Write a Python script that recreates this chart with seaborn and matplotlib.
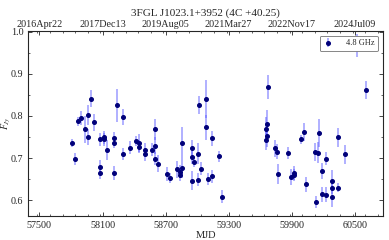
import numpy as np
import matplotlib
matplotlib.use('Agg')
import matplotlib.pyplot as plt
import seaborn as sns
from matplotlib.ticker import MultipleLocator

# Light curve values (MJD, flux density in Jy, error)
mjd = [57812, 57840, 57869, 57897, 57929, 57963, 57963, 57989, 58020,
       58080, 58080, 58080, 58114, 58118, 58146, 58206, 58206, 58206,
       58234, 58297, 58297, 58357, 58417, 58445, 58445, 58508, 58508,
       58568, 58596, 58596, 58596, 58625,
       58710, 58745, 58808, 58836, 58839, 58858, 58858, 58956, 58956,
       58956, 58974, 59006, 59006, 59022, 59041, 59085, 59085, 59107,
       59139, 59139, 59208, 59236,
       59655, 59655, 59664, 59668, 59677, 59744, 59763, 59768, 59863,
       59895, 59917, 59920, 59992, 60014, 60033, 60118, 60128, 60153,
       60162, 60184, 60184, 60222, 60222, 60279, 60279, 60288, 60339,
       60339, 60405, 60522, 60610]
flux = [0.736, 0.699, 0.787, 0.795, 0.768, 0.802, 0.750, 0.841, 0.785,
        0.745, 0.679, 0.665, 0.749, 0.745, 0.719, 0.748, 0.735, 0.665,
        0.825, 0.797, 0.710, 0.725, 0.740, 0.736, 0.727, 0.720, 0.709,
        0.720, 0.768, 0.730, 0.699, 0.687,
        0.663, 0.653, 0.674, 0.668, 0.661, 0.676, 0.735, 0.725, 0.702,
        0.647, 0.692, 0.711, 0.649, 0.826, 0.675, 0.841, 0.773, 0.651,
        0.747, 0.657, 0.704, 0.609,
        0.768, 0.744, 0.780, 0.752, 0.869, 0.723, 0.715, 0.663, 0.712,
        0.655, 0.665, 0.660, 0.745, 0.762, 0.638, 0.714, 0.597, 0.713,
        0.760, 0.669, 0.614, 0.699, 0.613, 0.647, 0.609, 0.630, 0.749,
        0.630, 0.709, 0.967, 0.861]
err = [0.010, 0.014, 0.011, 0.016, 0.033, 0.024, 0.019, 0.020, 0.020,
       0.015, 0.016, 0.014, 0.016, 0.015, 0.024, 0.014, 0.012, 0.017,
       0.040, 0.019, 0.014, 0.016, 0.012, 0.022, 0.015, 0.017, 0.015,
       0.016, 0.025, 0.020, 0.015, 0.020,
       0.017, 0.012, 0.020, 0.015, 0.015, 0.023, 0.038, 0.018, 0.015,
       0.022, 0.012, 0.025, 0.015, 0.021, 0.015, 0.045, 0.030, 0.015,
       0.017, 0.016, 0.014, 0.016,
       0.030, 0.024, 0.035, 0.025, 0.028, 0.020, 0.018, 0.023, 0.014,
       0.019, 0.017, 0.015, 0.011, 0.022, 0.018, 0.021, 0.014, 0.025,
       0.034, 0.019, 0.018, 0.015, 0.018, 0.024, 0.024, 0.015, 0.022,
       0.011, 0.022, 0.027, 0.021]

tick_mjd = [57500, 58100, 58700, 59300, 59900, 60500]
tick_dates = ['2016Apr22', '2017Dec13', '2019Aug05', '2021Mar27',
              '2022Nov17', '2024Jul09']

sns.set_style('ticks')
plt.rcParams['font.family'] = ['Liberation Serif', 'DejaVu Serif']
plt.rcParams['mathtext.fontset'] = 'stix'
plt.rcParams['font.size'] = 7

fig = plt.figure(figsize=(3.89, 2.40), dpi=100)
ax = fig.add_axes([0.073, 0.10, 0.912, 0.772])

ax.errorbar(mjd, flux, yerr=err, fmt='o', color='#00007a', markersize=2.6,
            ecolor=(0.35, 0.35, 1.0, 0.6), elinewidth=1.1, capsize=0,
            label='4.8 GHz', zorder=3)

ax.set_xlim(57395, 60770)
ax.set_ylim(0.563, 1.002)
ax.xaxis.set_major_locator(MultipleLocator(600))
ax.xaxis.set_minor_locator(MultipleLocator(120))
ax.yaxis.set_major_locator(MultipleLocator(0.1))
ax.yaxis.set_minor_locator(MultipleLocator(0.05))
ax.set_xticks(tick_mjd)
ax.tick_params(which='both', direction='in', right=True, labelsize=7.3)
ax.tick_params(which='major', length=3, width=0.6)
ax.tick_params(which='minor', length=1.5, width=0.5)
for s in ax.spines.values():
    s.set_linewidth(0.6)

ax.set_xlabel('MJD', fontsize=7.5, labelpad=1)
ax.set_ylabel('$F_{Jy}$', fontsize=7)
ax.yaxis.set_label_coords(-0.043, 0.5)

# Date labels along the top
top = ax.twiny()
top.set_xlim(ax.get_xlim())
top.set_xticks(tick_mjd)
top.set_xticklabels(tick_dates)
top.xaxis.set_minor_locator(MultipleLocator(120))
top.tick_params(which='both', direction='in', labelsize=7.3, pad=1)
top.tick_params(which='major', length=3, width=0.6)
top.tick_params(which='minor', length=1.5, width=0.5)
top.set_title('3FGL J1023.1+3952 (4C +40.25)', fontsize=8, pad=3)

leg = ax.legend(loc='upper right', fontsize=6, fancybox=True, framealpha=1,
                edgecolor='0.45', handlelength=1.2, borderpad=0.45,
                handletextpad=1.5, borderaxespad=0.6)
leg.get_frame().set_linewidth(0.6)

fig.savefig('out.png', dpi=100)
